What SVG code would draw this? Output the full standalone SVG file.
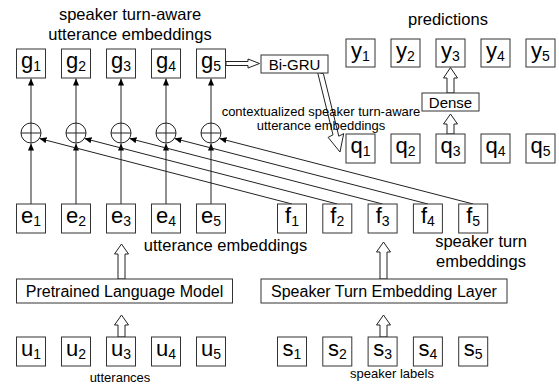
<svg xmlns="http://www.w3.org/2000/svg" width="559" height="385" viewBox="0 0 559 385">
<defs>
<marker id="ah" markerUnits="userSpaceOnUse" markerWidth="8" markerHeight="6" refX="7" refY="3" orient="auto">
<path d="M0,0 L7,3 L0,6 Z" fill="#000"/>
</marker>
<style>
text{font-family:"Liberation Sans",Arial,sans-serif;fill:#000}
.box{fill:#fff;stroke:#333;stroke-width:1}
.lbl{font-size:22px;text-anchor:middle}
.sub{font-size:14px}
.hdr{font-size:16.5px;text-anchor:middle}
.mid{font-size:13px;text-anchor:middle}
.blk{font-size:16px;text-anchor:middle}
.sm{font-size:13px;text-anchor:middle}
.ln{stroke:#222;stroke-width:1;fill:none}
.ha{fill:#fff;stroke:#222;stroke-width:1}
.circ{fill:#fff;stroke:#222;stroke-width:1}
</style>
</defs>

<!-- header texts -->
<text class="hdr" x="130" y="20">speaker turn-aware</text>
<text class="hdr" x="130" y="40">utterance embeddings</text>
<text class="hdr" x="448" y="25">predictions</text>

<!-- connectors -->
<g id="connectors">
<line class="ln" x1="31" y1="204" x2="31" y2="143.5" marker-end="url(#ah)"/>
<line class="ln" x1="76" y1="204" x2="76" y2="143.5" marker-end="url(#ah)"/>
<line class="ln" x1="121" y1="204" x2="121" y2="143.5" marker-end="url(#ah)"/>
<line class="ln" x1="166" y1="204" x2="166" y2="143.5" marker-end="url(#ah)"/>
<line class="ln" x1="211" y1="204" x2="211" y2="143.5" marker-end="url(#ah)"/>
<line class="ln" x1="31" y1="123" x2="31" y2="78.5" marker-end="url(#ah)"/>
<line class="ln" x1="76" y1="123" x2="76" y2="78.5" marker-end="url(#ah)"/>
<line class="ln" x1="121" y1="123" x2="121" y2="78.5" marker-end="url(#ah)"/>
<line class="ln" x1="166" y1="123" x2="166" y2="78.5" marker-end="url(#ah)"/>
<line class="ln" x1="211" y1="123" x2="211" y2="78.5" marker-end="url(#ah)"/>
<line class="ln" x1="292" y1="204" x2="39.5" y2="138.5" marker-end="url(#ah)"/>
<line class="ln" x1="337.3" y1="204" x2="84.5" y2="138.5" marker-end="url(#ah)"/>
<line class="ln" x1="382.6" y1="204" x2="129.5" y2="138.5" marker-end="url(#ah)"/>
<line class="ln" x1="427.9" y1="204" x2="174.5" y2="138.5" marker-end="url(#ah)"/>
<line class="ln" x1="473.2" y1="204" x2="219.5" y2="138.5" marker-end="url(#ah)"/>
<path class="ha" d="M226,61.5 L248,61.5 L248,59 L259.5,63.5 L248,68 L248,65.5 L226,65.5 Z"/>
<path class="ha" d="M317.6,72.3 L323.4,73.7 L338.8,136.2 L343.7,133.6 L340,152 L328.1,137.4 L333,134.8 Z"/>
<path class="ha" d="M450.5,67.5 L457.5,78 L454,78 L454,93 L447,93 L447,78 L443.5,78 Z"/>
<path class="ha" d="M450.5,114 L457.5,124 L454,124 L454,134 L447,134 L447,124 L443.5,124 Z"/>
<path class="ha" d="M121.5,244 L128.5,254 L125,254 L125,279 L118,279 L118,254 L114.5,254 Z"/>
<path class="ha" d="M121.5,315 L128.5,325 L125,325 L125,337 L118,337 L118,325 L114.5,325 Z"/>
<path class="ha" d="M383.5,242 L390.5,252 L387,252 L387,279 L380,279 L380,252 L376.5,252 Z"/>
<path class="ha" d="M383.5,315 L390.5,325 L387,325 L387,337 L380,337 L380,325 L376.5,325 Z"/>
</g>

<text class="mid" x="321" y="116">contextualized speaker turn-aware</text>
<text class="mid" x="321" y="130">utterance embeddings</text>

<!-- circles -->
<g id="sum1"><circle class="circ" cx="31" cy="133" r="10"/><path class="ln" d="M21,133 H41 M31,123 V143"/></g>
<g id="sum2"><circle class="circ" cx="76" cy="133" r="10"/><path class="ln" d="M66,133 H86 M76,123 V143"/></g>
<g id="sum3"><circle class="circ" cx="121" cy="133" r="10"/><path class="ln" d="M111,133 H131 M121,123 V143"/></g>
<g id="sum4"><circle class="circ" cx="166" cy="133" r="10"/><path class="ln" d="M156,133 H176 M166,123 V143"/></g>
<g id="sum5"><circle class="circ" cx="211" cy="133" r="10"/><path class="ln" d="M201,133 H221 M211,123 V143"/></g>

<!-- g boxes -->
<g id="g1"><rect class="box" x="16.5" y="49" width="29" height="29"/><text class="lbl" x="31" y="67.5">g<tspan class="sub" dy="3.5">1</tspan></text></g>
<g id="g2"><rect class="box" x="61.5" y="49" width="29" height="29"/><text class="lbl" x="76" y="67.5">g<tspan class="sub" dy="3.5">2</tspan></text></g>
<g id="g3"><rect class="box" x="106.5" y="49" width="29" height="29"/><text class="lbl" x="121" y="67.5">g<tspan class="sub" dy="3.5">3</tspan></text></g>
<g id="g4"><rect class="box" x="151.5" y="49" width="29" height="29"/><text class="lbl" x="166" y="67.5">g<tspan class="sub" dy="3.5">4</tspan></text></g>
<g id="g5"><rect class="box" x="196.5" y="49" width="29" height="29"/><text class="lbl" x="211" y="67.5">g<tspan class="sub" dy="3.5">5</tspan></text></g>

<!-- Bi-GRU -->
<g id="bigru"><rect class="box" x="261" y="55" width="67" height="18"/><text x="294.5" y="69.5" font-size="15" text-anchor="middle">Bi-GRU</text></g>

<!-- y boxes -->
<g id="y1"><rect class="box" x="346" y="39" width="29" height="28"/><text class="lbl" x="360.5" y="57.5">y<tspan class="sub" dy="3.5">1</tspan></text></g>
<g id="y2"><rect class="box" x="391" y="39" width="29" height="28"/><text class="lbl" x="405.5" y="57.5">y<tspan class="sub" dy="3.5">2</tspan></text></g>
<g id="y3"><rect class="box" x="436" y="39" width="29" height="28"/><text class="lbl" x="450.5" y="57.5">y<tspan class="sub" dy="3.5">3</tspan></text></g>
<g id="y4"><rect class="box" x="481" y="39" width="29" height="28"/><text class="lbl" x="495.5" y="57.5">y<tspan class="sub" dy="3.5">4</tspan></text></g>
<g id="y5"><rect class="box" x="526" y="39" width="29" height="28"/><text class="lbl" x="540.5" y="57.5">y<tspan class="sub" dy="3.5">5</tspan></text></g>

<!-- Dense -->
<g id="dense"><rect class="box" x="422" y="93" width="57" height="18"/><text x="450.5" y="107.5" font-size="15" text-anchor="middle">Dense</text></g>

<!-- q boxes -->
<g id="q1"><rect class="box" x="346" y="134" width="29" height="29"/><text class="lbl" x="360.5" y="152.5">q<tspan class="sub" dy="3.5">1</tspan></text></g>
<g id="q2"><rect class="box" x="391" y="134" width="29" height="29"/><text class="lbl" x="405.5" y="152.5">q<tspan class="sub" dy="3.5">2</tspan></text></g>
<g id="q3"><rect class="box" x="436" y="134" width="29" height="29"/><text class="lbl" x="450.5" y="152.5">q<tspan class="sub" dy="3.5">3</tspan></text></g>
<g id="q4"><rect class="box" x="481" y="134" width="29" height="29"/><text class="lbl" x="495.5" y="152.5">q<tspan class="sub" dy="3.5">4</tspan></text></g>
<g id="q5"><rect class="box" x="526" y="134" width="29" height="29"/><text class="lbl" x="540.5" y="152.5">q<tspan class="sub" dy="3.5">5</tspan></text></g>

<!-- e boxes -->
<g id="e1"><rect class="box" x="16.5" y="204" width="29" height="29"/><text class="lbl" x="31" y="222.5">e<tspan class="sub" dy="3.5">1</tspan></text></g>
<g id="e2"><rect class="box" x="61.5" y="204" width="29" height="29"/><text class="lbl" x="76" y="222.5">e<tspan class="sub" dy="3.5">2</tspan></text></g>
<g id="e3"><rect class="box" x="106.5" y="204" width="29" height="29"/><text class="lbl" x="121" y="222.5">e<tspan class="sub" dy="3.5">3</tspan></text></g>
<g id="e4"><rect class="box" x="151.5" y="204" width="29" height="29"/><text class="lbl" x="166" y="222.5">e<tspan class="sub" dy="3.5">4</tspan></text></g>
<g id="e5"><rect class="box" x="196.5" y="204" width="29" height="29"/><text class="lbl" x="211" y="222.5">e<tspan class="sub" dy="3.5">5</tspan></text></g>

<!-- f boxes -->
<g id="f1"><rect class="box" x="277.5" y="204" width="29" height="29"/><text class="lbl" x="292" y="222.5">f<tspan class="sub" dy="3.5">1</tspan></text></g>
<g id="f2"><rect class="box" x="322.8" y="204" width="29" height="29"/><text class="lbl" x="337.3" y="222.5">f<tspan class="sub" dy="3.5">2</tspan></text></g>
<g id="f3"><rect class="box" x="368.1" y="204" width="29" height="29"/><text class="lbl" x="382.6" y="222.5">f<tspan class="sub" dy="3.5">3</tspan></text></g>
<g id="f4"><rect class="box" x="413.4" y="204" width="29" height="29"/><text class="lbl" x="427.9" y="222.5">f<tspan class="sub" dy="3.5">4</tspan></text></g>
<g id="f5"><rect class="box" x="458.7" y="204" width="29" height="29"/><text class="lbl" x="473.2" y="222.5">f<tspan class="sub" dy="3.5">5</tspan></text></g>

<text class="hdr" x="225.5" y="251">utterance embeddings</text>
<text class="hdr" x="481" y="247">speaker turn</text>
<text class="hdr" x="481" y="267">embeddings</text>

<!-- layers -->
<g id="plm"><rect class="box" x="16.5" y="279" width="216" height="24"/><text class="blk" x="124.5" y="296.5">Pretrained Language Model</text></g>
<g id="stel"><rect class="box" x="261" y="279" width="246" height="24"/><text class="blk" x="384" y="296.5">Speaker Turn Embedding Layer</text></g>

<!-- u boxes -->
<g id="u1"><rect class="box" x="16.5" y="337" width="29" height="29"/><text class="lbl" x="31" y="355.5">u<tspan class="sub" dy="3.5">1</tspan></text></g>
<g id="u2"><rect class="box" x="61.5" y="337" width="29" height="29"/><text class="lbl" x="76" y="355.5">u<tspan class="sub" dy="3.5">2</tspan></text></g>
<g id="u3"><rect class="box" x="106.5" y="337" width="29" height="29"/><text class="lbl" x="121" y="355.5">u<tspan class="sub" dy="3.5">3</tspan></text></g>
<g id="u4"><rect class="box" x="151.5" y="337" width="29" height="29"/><text class="lbl" x="166" y="355.5">u<tspan class="sub" dy="3.5">4</tspan></text></g>
<g id="u5"><rect class="box" x="196.5" y="337" width="29" height="29"/><text class="lbl" x="211" y="355.5">u<tspan class="sub" dy="3.5">5</tspan></text></g>

<!-- s boxes -->
<g id="s1"><rect class="box" x="277.5" y="337" width="29" height="29"/><text class="lbl" x="292" y="355.5">s<tspan class="sub" dy="3.5">1</tspan></text></g>
<g id="s2"><rect class="box" x="322.8" y="337" width="29" height="29"/><text class="lbl" x="337.3" y="355.5">s<tspan class="sub" dy="3.5">2</tspan></text></g>
<g id="s3"><rect class="box" x="368.1" y="337" width="29" height="29"/><text class="lbl" x="382.6" y="355.5">s<tspan class="sub" dy="3.5">3</tspan></text></g>
<g id="s4"><rect class="box" x="413.4" y="337" width="29" height="29"/><text class="lbl" x="427.9" y="355.5">s<tspan class="sub" dy="3.5">4</tspan></text></g>
<g id="s5"><rect class="box" x="458.7" y="337" width="29" height="29"/><text class="lbl" x="473.2" y="355.5">s<tspan class="sub" dy="3.5">5</tspan></text></g>

<text class="sm" x="120" y="382">utterances</text>
<text class="sm" x="392" y="378">speaker labels</text>
</svg>
